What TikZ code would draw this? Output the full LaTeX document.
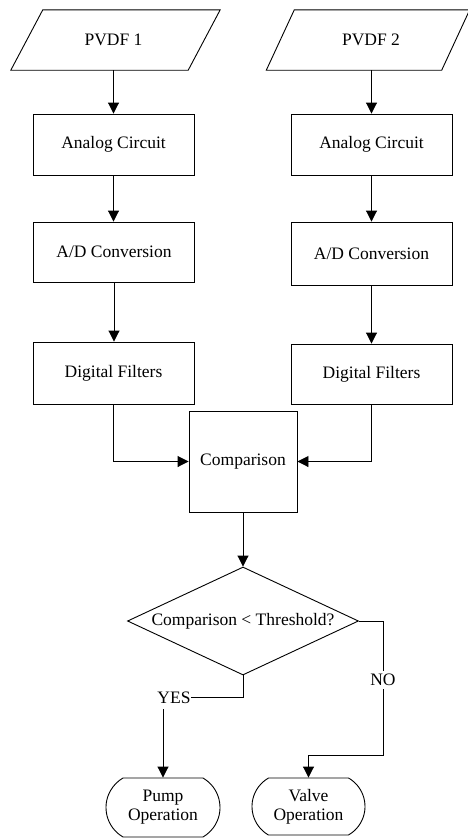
\documentclass[tikz,border=0pt]{standalone}
\usepackage{fontspec}
\setmainfont{Liberation Serif}
\usetikzlibrary{arrows.meta,shapes.geometric,shapes.misc,calc}
\begin{document}
\begin{tikzpicture}[x=1pt,y=-1pt,
  every node/.style={font=\fontsize{17.5}{19}\selectfont},
  ln/.style={line width=0.9pt},
  arr/.style={ln,-{Triangle[length=11pt,width=11pt]}},
  procbox/.style={draw,ln,rectangle,inner sep=0pt,minimum width=161pt},
  inbox/.style={rectangle,inner sep=0pt,minimum height=60pt},
  termbox/.style={draw,ln,rounded rectangle,rounded rectangle arc length=120,inner sep=0pt,align=center},
  decbox/.style={draw,ln,diamond,inner sep=0pt,minimum width=231pt,minimum height=108pt}
]
\useasboundingbox (0,0) rectangle (468,839);

% inputs (parallelograms)
\node[inbox,minimum width=177pt] (p1) at (115.5,40) {};
\node (p1t) at (113.5,40) {PVDF 1};
\draw[ln] ([xshift=16pt]p1.north west) -- ([xshift=16pt]p1.north east)
  -- ([xshift=-16pt]p1.south east) -- ([xshift=-16pt]p1.south west) -- cycle;

\node[inbox,minimum width=175pt] (p2) at (368,40) {};
\node (p2t) at (371,40) {PVDF 2};
\draw[ln] ([xshift=14pt]p2.north west) -- ([xshift=14pt]p2.north east)
  -- ([xshift=-14pt]p2.south east) -- ([xshift=-14pt]p2.south west) -- cycle;

% left column
\node[procbox,minimum height=61pt] (a1) at (113.5,144.5) {Analog Circuit};
\node[procbox,minimum height=60pt] (d1) at (114,252) {A/D Conversion};
\node[procbox,minimum height=62pt] (f1) at (113.5,373) {Digital Filters};

% right column
\node[procbox,minimum height=61pt] (a2) at (371.5,144.5) {Analog Circuit};
\node[procbox,minimum height=63pt] (d2) at (371.5,253.5) {A/D Conversion};
\node[procbox,minimum height=60pt] (f2) at (371.5,374) {Digital Filters};

% comparison
\node[draw,ln,rectangle,inner sep=0pt,minimum width=108pt,minimum height=101pt] (cmp) at (243,461.5) {Comparison};

% decision
\node[decbox] (dec) at (243,621) {};
\node (dect) at (dec) {Comparison < Threshold?};

% terminals
\node[termbox,minimum width=114pt,minimum height=59pt] (pump) at (163,807.5) {Pump\\Operation};
\node[termbox,minimum width=113pt,minimum height=57pt] (valve) at (308.5,806.5) {Valve\\Operation};

% connectors
\draw[arr] (p1.south -| a1.north) -- (a1.north);
\draw[arr] (a1.south) -- (d1.north -| a1.south);
\draw[arr] (d1.south) -- (f1.north -| d1.south);
\draw[arr] (p2.south -| a2.north) -- (a2.north);
\draw[arr] (a2.south) -- (d2.north);
\draw[arr] (d2.south) -- (f2.north);
\draw[arr] (f1.south) |- (cmp.west);
\draw[arr] (f2.south) |- (cmp.east);
\draw[arr] (cmp.south) -- (dec.north);

% YES branch
\node[inner sep=0pt] (yes) at (174,697.5) {YES};
\draw[ln] (dec.south) |- (yes.east);
\coordinate (yesb) at (163,709);
\draw[arr] (yesb) -- (pump.north);

% NO branch
\coordinate (noc) at (383,755);
\draw[arr] (dec.east) -| (noc) -| (valve.north);
\node[fill=white,inner sep=3pt] (no) at (383,680) {NO};
\end{tikzpicture}
\end{document}
